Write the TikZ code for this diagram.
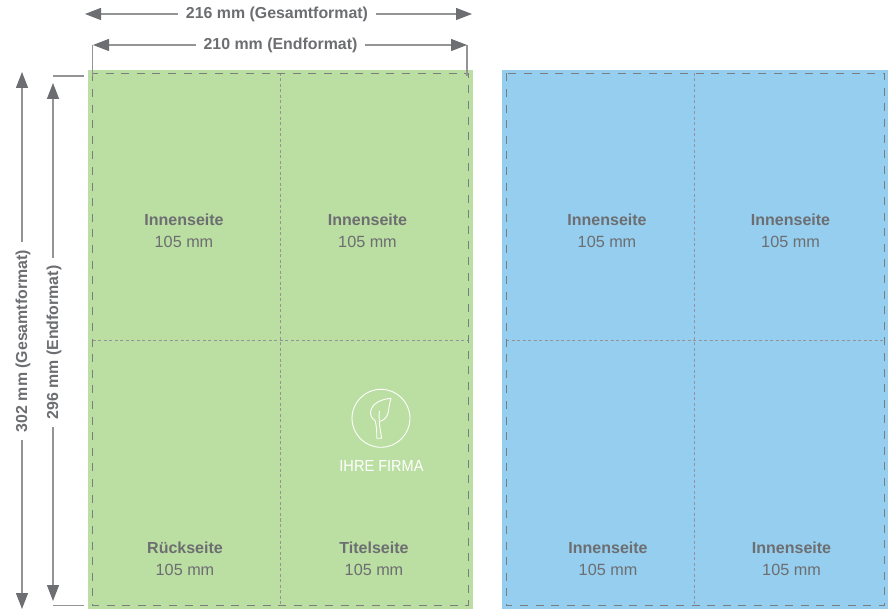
\documentclass[tikz,border=0pt]{standalone}
\usepackage{fontspec}
\setmainfont{Liberation Sans}
\usetikzlibrary{arrows.meta}
\definecolor{grn}{HTML}{BBDEA2}
\definecolor{blu}{HTML}{95CEEE}
\definecolor{txt}{HTML}{6D6E71}
\definecolor{lin}{HTML}{949496}
\tikzset{
  x=1pt,y=-1pt,
  tip/.style={{Triangle[length=16pt,width=12pt,color=txt]}-{Triangle[length=16pt,width=12pt,color=txt]}},
  dim/.style={draw=lin,line width=1.3pt},
  tick/.style={draw=lin,line width=1.3pt},
  lab/.style={text=txt,font=\fontsize{16.2}{18}\selectfont,inner sep=0pt,anchor=center},
  blab/.style={lab,font=\fontsize{16}{18}\selectfont\bfseries},
  dimlab/.style={text=txt,font=\fontsize{15.9}{18}\selectfont\bfseries,fill=white,inner xsep=8pt,inner ysep=2pt},
  trim/.style={draw=txt!90,line width=1pt,dash pattern=on 8pt off 7.6pt},
  fold/.style={draw=lin,line width=.7pt,dash pattern=on 3pt off 2.5pt},
  logo/.style={draw=white,line width=.9pt,line join=round},
}
\begin{document}
\begin{tikzpicture}
\useasboundingbox (0,0) rectangle (892,609);
% sheets
\fill[grn] (88,70) rectangle (473,609);
\fill[blu] (502,70) rectangle (888,609);
% fold lines
\draw[fold] (280,73) -- (280,606);
\draw[fold] (92.5,340.5) -- (468,340.5);
\draw[fold] (694,73) -- (694,606);
\draw[fold] (506,340.5) -- (884,340.5);
% trim boxes
\draw[trim] (92.5,73.5) rectangle (468,605.5);
\draw[trim] (506,73.5) rectangle (884,605.5);
% ticks
\coordinate (tl) at (92.5,45);
\coordinate (tr) at (467,45);
\coordinate (tlb) at (92.5,76);
\coordinate (trb) at (467,76);
\coordinate (lt) at (53,76);
\coordinate (ltb) at (84,76);
\coordinate (lb) at (53,605.5);
\coordinate (lbb) at (84,605.5);
\draw[tick] (tl) -- (tlb);
\draw[tick] (tr) -- (trb);
\draw[tick] (lt) -- (ltb);
\draw[tick] (lb) -- (lbb);
% dimensions
\coordinate (a1) at (85,14);
\coordinate (a2) at (472,14);
\coordinate (b1) at (93,45);
\coordinate (b2) at (467,45);
\coordinate (c1) at (22,72);
\coordinate (c2) at (22,609);
\coordinate (d1) at (53,83);
\coordinate (d2) at (53,601);
\draw[dim,tip] (a1) -- (a2);
\draw[dim,tip] (b1) -- (b2);
\draw[dim,tip] (c1) -- (c2);
\draw[dim,tip] (d1) -- (d2);
\node[dimlab] (n216) at (277,14.5) {216 mm (Gesamtformat)};
\node[dimlab] (n210) at (280.5,45) {210 mm (Endformat)};
\node[dimlab,rotate=90] (n302) at (23,341) {302 mm (Gesamtformat)};
\node[dimlab,rotate=90] (n296) at (54,342.5) {296 mm (Endformat)};
% labels
\node[blab] (p1) at (184,219.5) {Innenseite};
\node[lab]  (q1) at (184,242) {105 mm};
\node[blab] (p2) at (367.5,219.5) {Innenseite};
\node[lab]  (q2) at (367.5,242) {105 mm};
\node[blab] (p3) at (607,219.5) {Innenseite};
\node[lab]  (q3) at (607,242) {105 mm};
\node[blab] (p4) at (790.5,219.5) {Innenseite};
\node[lab]  (q4) at (790.5,242) {105 mm};
\node[blab] (p5) at (185,547.5) {Rückseite};
\node[lab]  (q5) at (185,570) {105 mm};
\node[blab] (p6) at (374,547.5) {Titelseite};
\node[lab]  (q6) at (374,570) {105 mm};
\node[blab] (p7) at (608,547.5) {Innenseite};
\node[lab]  (q7) at (608,570) {105 mm};
\node[blab] (p8) at (791.5,547.5) {Innenseite};
\node[lab]  (q8) at (791.5,570) {105 mm};
% logo
\draw[logo] (381,418.3) circle (29);
\draw[logo] (391,398.3) .. controls (382,399) and (372,403) .. (370.7,411.5)
  .. controls (370,415) and (372,419) .. (375,420.5)
  .. controls (376.5,425) and (377,432) .. (376.7,438.3)
  -- (381.7,438.3) .. controls (380.5,432) and (379.5,426) .. (379.3,421.5)
  .. controls (384,421) and (388,416) .. (388.5,411)
  .. controls (389,406) and (390,402) .. (391,398.3) -- cycle;
\draw[logo] (379.3,421.5) .. controls (379,418) and (379,414) .. (379.5,411);
\node[text=white,inner sep=0pt,font=\fontsize{16}{18}\selectfont,xscale=.91] (firm) at (381.5,466) {IHRE FIRMA};
\end{tikzpicture}
\end{document}
